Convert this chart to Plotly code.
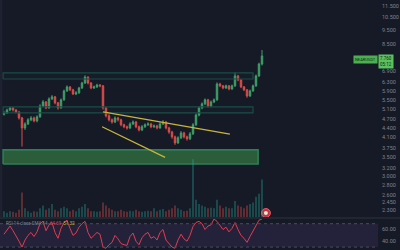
import plotly.graph_objects as go

# ---------------- data ----------------
first_open = 4.90
closes = [4.95,5.07,5.15,5.07,4.99,4.76,4.40,4.54,4.69,4.76,
          4.65,4.80,5.23,5.40,5.15,5.53,5.62,5.36,5.15,5.49,
          5.89,6.08,5.94,5.75,5.80,6.03,6.27,6.57,6.27,6.03,
          6.08,6.17,6.13,5.15,4.84,4.69,4.61,4.76,4.69,4.51,
          4.44,4.40,4.54,4.61,4.44,4.33,4.44,4.51,4.54,4.44,
          4.47,4.40,4.54,4.61,4.40,4.26,4.10,3.91,4.07,4.23,
          4.10,4.04,4.20,4.51,4.87,5.15,5.32,5.49,5.23,5.40,
          5.49,6.22,6.13,6.03,6.13,5.98,6.13,6.63,6.42,6.08,
          5.94,5.66,5.89,6.13,6.63,7.28,7.76]
highs = [5.02,5.12,5.20,5.19,5.10,5.02,4.80,4.60,4.75,4.83,
         4.81,4.86,5.30,5.48,5.44,5.60,5.70,5.66,5.40,5.55,
         5.95,6.15,6.12,5.99,5.88,6.08,6.33,6.66,6.60,6.31,
         6.14,6.23,6.22,6.16,5.20,4.90,4.74,4.82,4.80,4.73,
         4.55,4.48,4.60,4.67,4.65,4.48,4.50,4.56,4.60,4.58,
         4.52,4.51,4.60,4.68,4.65,4.44,4.30,4.14,4.12,4.29,
         4.27,4.14,4.26,4.57,4.93,5.21,5.38,5.55,5.53,5.46,
         5.55,6.30,6.28,6.17,6.19,6.17,6.19,6.80,6.68,6.46,
         6.12,5.98,5.95,6.19,6.70,7.36,8.13]
lows = [4.85,4.92,5.02,5.01,4.94,4.70,3.80,4.33,4.50,4.64,
        4.60,4.60,4.77,5.18,5.10,5.12,5.48,5.30,5.08,5.12,
        5.45,5.84,5.88,5.70,5.70,5.76,5.98,6.22,6.20,5.97,
        5.98,6.03,6.06,5.08,4.78,4.63,4.55,4.57,4.63,4.46,
        4.39,4.34,4.36,4.50,4.39,4.28,4.29,4.40,4.47,4.39,
        4.40,4.35,4.37,4.50,4.35,4.20,4.04,3.85,3.88,4.03,
        4.05,3.98,4.00,4.16,4.47,4.82,5.10,5.27,5.17,5.18,
        5.35,5.45,6.07,5.97,5.98,5.92,5.94,6.08,6.36,6.02,
        5.88,5.58,5.62,5.85,6.08,6.58,7.20]
volumes = [2,1.5,2,1.8,1.5,2.5,8.5,3,2,1.5,
           2,1.8,3,4,2.5,3,4.5,2.5,2,3,
           3.5,3,2,2.5,2,3,3.5,4.5,3,2,
           2,1.8,2,5,4,3,2.5,2,2,2.5,
           2,1.8,2.2,2,2.5,2,1.8,2,2.2,2,
           3,2,2.5,2.8,2,2.5,3,4,3,2.5,
           2,2.2,3,20,6,4.5,4,3.5,3,3.2,
           3,6,4,3,3.5,3,3,5.5,4,3.5,
           3,4,4.5,5,7,8,13]
rsi = [52,60,66,58,50,40,30,42,50,55,
       48,56,70,74,58,68,72,55,45,62,
       72,76,62,50,54,64,70,74,55,45,
       50,55,52,30,28,34,38,50,44,36,
       34,33,48,54,40,34,46,52,55,45,
       48,42,55,60,42,35,30,28,42,52,
       44,40,50,65,72,74,70,60,66,68,
       78,74,66,60,64,56,62,72,60,50,
       45,38,48,58,68,76,78]

# drawn zones (bar index span, price band)
teal_zones = [(-0.3, 83.0, 6.47, 6.79), (-0.3, 83.0, 4.95, 5.19)]
green_zone = (-0.3, 84.7, 3.31, 3.70)
trend_upper = ([33.0, 75.3], [4.99, 4.19])
trend_lower = ([32.7, 53.7], [4.44, 3.49])
event_marker = (87.3, 2.25)

price_ticks = [11.5, 10.5, 9.5, 8.5, 6.9, 6.3, 5.9, 5.5, 5.1, 4.7, 4.4, 4.1,
               3.75, 3.5, 3.2, 3.0, 2.8, 2.6, 2.45, 2.3]
price_ticktext = ["%.3f" % v for v in price_ticks]
rsi_ticks = [60, 40]

# ---------------- figure ----------------
idx = list(range(len(closes)))
opens = [first_open] + closes[:-1]

UP = "#3f9f68"
DN = "#d94c4a"
BG = "#161a26"
TXT = "#7d828f"

fig = go.Figure()

# zones (behind candles)
for (x0, x1, p0, p1) in teal_zones:
    fig.add_trace(go.Scatter(x=[x0, x1, x1, x0, x0], y=[p0, p0, p1, p1, p0],
                             mode="lines", fill="toself",
                             fillcolor="rgba(30,90,82,0.05)",
                             line=dict(color="#1a4d48", width=1.2),
                             hoverinfo="skip", showlegend=False,
                             xaxis="x", yaxis="y"))
gx0, gx1, gp0, gp1 = green_zone
fig.add_trace(go.Scatter(x=[gx0, gx1, gx1, gx0, gx0], y=[gp0, gp0, gp1, gp1, gp0],
                         mode="lines", fill="toself", fillcolor="#2b5d3b",
                         line=dict(color="#2e7d57", width=1.6),
                         hoverinfo="skip", showlegend=False,
                         xaxis="x", yaxis="y"))

# volume overlay
vcol = ["rgba(38,166,154,0.45)" if c >= o else "rgba(239,83,80,0.45)"
        for o, c in zip(opens, closes)]
fig.add_trace(go.Bar(x=idx, y=volumes, marker=dict(color=vcol, line=dict(width=0)),
                     width=0.5, showlegend=False, hoverinfo="skip",
                     xaxis="x", yaxis="y3"))

# candles
fig.add_trace(go.Candlestick(x=idx, open=opens, high=highs, low=lows, close=closes,
                             increasing=dict(line=dict(color=UP, width=1), fillcolor=UP),
                             decreasing=dict(line=dict(color=DN, width=1), fillcolor=DN),
                             whiskerwidth=0, showlegend=False,
                             xaxis="x", yaxis="y"))

# trend lines
for tx, ty in (trend_upper, trend_lower):
    fig.add_trace(go.Scatter(x=tx, y=ty, mode="lines",
                             line=dict(color="#c9b43c", width=1.3),
                             hoverinfo="skip", showlegend=False,
                             xaxis="x", yaxis="y"))

# event marker
fig.add_trace(go.Scatter(x=[event_marker[0]], y=[event_marker[1]], mode="markers",
                         marker=dict(size=9, color="#c8323f",
                                     line=dict(color="#e65a66", width=1)),
                         hoverinfo="skip", showlegend=False, xaxis="x", yaxis="y"))
fig.add_trace(go.Scatter(x=[event_marker[0]], y=[event_marker[1]], mode="markers",
                         marker=dict(size=4, color="#d8f0dc"),
                         hoverinfo="skip", showlegend=False, xaxis="x", yaxis="y"))

# RSI
fig.add_trace(go.Scatter(x=idx, y=rsi, mode="lines",
                         line=dict(color="#e23b4e", width=1),
                         hoverinfo="skip", showlegend=False,
                         xaxis="x2", yaxis="y2"))

XR = [-4/3, 374/3]
fig.update_layout(
    width=400, height=250,
    margin=dict(l=0, r=22, t=0, b=0),
    paper_bgcolor=BG, plot_bgcolor=BG,
    font=dict(family="Roboto", size=6, color=TXT),
    showlegend=False,
    xaxis=dict(domain=[0, 1], range=XR, visible=False, rangeslider=dict(visible=False),
               anchor="y"),
    xaxis2=dict(domain=[0, 1], range=XR, visible=False, matches="x", anchor="y2"),
    yaxis=dict(domain=[0.132, 1], type="log", range=[0.3385, 1.0813], side="right",
               tickvals=price_ticks, ticktext=price_ticktext, showgrid=False,
               zeroline=False, showline=False, ticks="", ticklabelstandoff=3,
               tickfont=dict(size=5.5, color=TXT), anchor="x"),
    yaxis3=dict(domain=[0.132, 1], range=[0, 75], overlaying="y", visible=False,
                anchor="x"),
    yaxis2=dict(domain=[0, 0.124], range=[25, 78], side="right",
                tickvals=rsi_ticks, ticktext=["%.2f" % v for v in rsi_ticks],
                showgrid=False, zeroline=False, showline=False, ticks="",
                ticklabelstandoff=3, tickfont=dict(size=5.5, color=TXT), anchor="x2"),
    shapes=[
        dict(type="rect", xref="paper", yref="y2", x0=0, x1=1, y0=30, y1=70,
             fillcolor="rgba(126,87,194,0.14)", line=dict(width=0), layer="below"),
        dict(type="line", xref="paper", yref="y2", x0=0, x1=1, y0=70, y1=70,
             line=dict(color="#4a4a5e", width=1, dash="dot")),
        dict(type="line", xref="paper", yref="y2", x0=0, x1=1, y0=30, y1=30,
             line=dict(color="#4a4a5e", width=1, dash="dot")),
        dict(type="rect", xref="paper", yref="paper", x0=0, x1=1.06, y0=0.124, y1=0.132,
             fillcolor="#222632", line=dict(width=0), layer="below"),
        dict(type="rect", xref="paper", yref="paper", x0=0, x1=0.006, y0=0.132, y1=1,
             fillcolor="#1e2230", line=dict(width=0), layer="below"),
    ],
    annotations=[
        dict(xref="paper", yref="paper", x=0.01, y=0.108, xanchor="left", yanchor="middle",
             showarrow=False, font=dict(size=4.5, color=TXT),
             text="RSI 14 close SMA 14  <span style='color:#e0424f'>64.69</span>  "
                  "<span style='color:#c9b43c'>51.32</span>"),
        dict(xref="paper", yref="paper", x=1.0, y=0.762, xanchor="right", yanchor="middle",
             showarrow=False, bgcolor="#4caf50", borderpad=1,
             font=dict(size=4, color="#0f2a14"), text="NEARUSDT"),
        dict(xref="paper", yref="paper", x=1.001, y=0.756, xanchor="left", yanchor="middle",
             showarrow=False, bgcolor="#5bc15e", borderpad=1, align="left",
             font=dict(size=4.5, color="#0f2a14"), text="7.760<br>05:12"),
    ],
)

fig.write_html("out.html")
